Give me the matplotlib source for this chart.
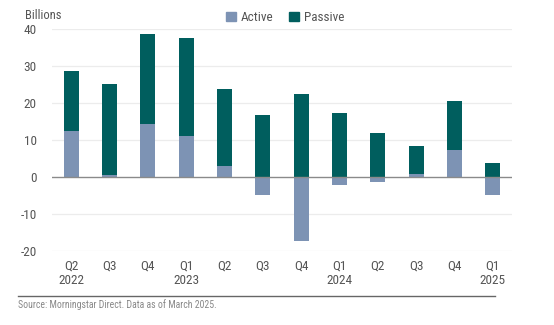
import matplotlib
matplotlib.use("Agg")
import matplotlib.pyplot as plt
import numpy as np
from matplotlib.lines import Line2D
from matplotlib.patches import Patch

quarters = ["Q2\n2022", "Q3", "Q4", "Q1\n2023", "Q2", "Q3", "Q4",
            "Q1\n2024", "Q2", "Q3", "Q4", "Q1\n2025"]
active = [12.4, 0.5, 14.4, 11.0, 2.9, -4.8, -17.4, -2.1, -1.4, 0.9, 7.3, -4.8]
passive = [16.3, 24.8, 24.2, 26.5, 20.9, 16.8, 22.5, 17.3, 11.8, 7.5, 13.3, 3.7]
yticks = [-20, -10, 0, 10, 20, 30, 40]

active_color = "#7d93b4"
passive_color = "#005e5e"
text_color = "#555555"

plt.rcParams["font.family"] = ["Roboto Condensed", "Liberation Sans Narrow",
                               "Roboto", "DejaVu Sans"]

fig = plt.figure(figsize=(5.54, 3.25), dpi=100)
ax = fig.add_axes([0.094, 0.228, 0.830, 0.682])

x = np.arange(len(quarters))
act = np.array(active)
pas = np.array(passive)
width = 0.39
ax.bar(x, act, width, color=active_color, zorder=3)
pas_bottom = np.where(act > 0, act, 0)
ax.bar(x, pas, width, bottom=pas_bottom, color=passive_color, zorder=3)

ax.set_xlim(-0.5, 11.5)
ax.set_ylim(-20, 40)
ax.set_yticks(yticks)
ax.set_yticklabels([str(t) for t in yticks])
for t in yticks:
    if t != 0:
        ax.axhline(t, color="#ececec", lw=0.9, zorder=1)
ax.axhline(0, color="#8a8a8a", lw=1.0, zorder=4)

ax.set_xticks(x)
ax.set_xticklabels(quarters, linespacing=1.2)
ax.tick_params(axis="both", length=0, labelsize=9.5, colors=text_color)
ax.tick_params(axis="x", pad=6)
ax.tick_params(axis="y", pad=11)
for s in ax.spines.values():
    s.set_visible(False)

fig.text(0.045, 0.952, "Billions", fontsize=9, color=text_color, va="center")

handles = [Patch(color=active_color, label="Active"),
           Patch(color=passive_color, label="Passive")]
fig.legend(handles=handles, loc="center", bbox_to_anchor=(0.515, 0.946),
           ncol=2, frameon=False, fontsize=9.5, handlelength=0.7,
           handleheight=0.7, handletextpad=0.4, columnspacing=1.2,
           labelcolor=text_color)

fig.add_artist(Line2D([0.033, 0.893], [0.089, 0.089], color="#666666", lw=1.0))
fig.text(0.033, 0.062, "Source: Morningstar Direct. Data as of March 2025.",
         fontsize=7, color="#888888", va="center")

fig.savefig("out.png", dpi=100)
